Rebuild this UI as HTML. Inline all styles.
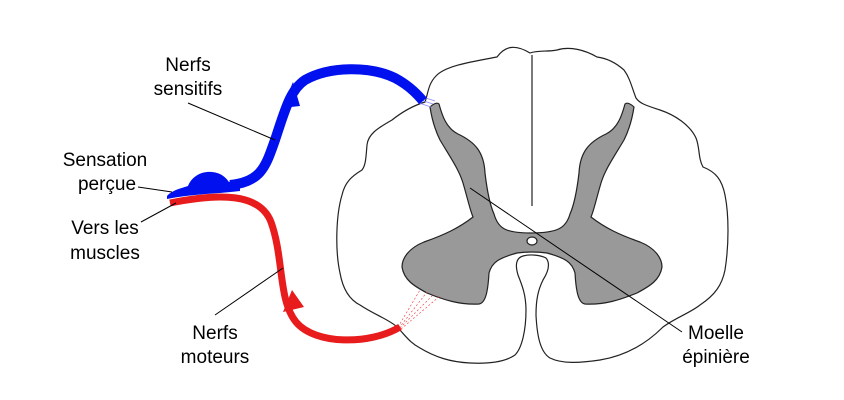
<!DOCTYPE html>
<html><head><meta charset="utf-8"><style>
html,body{margin:0;padding:0;background:#fff;}
svg{display:block;}
text{font-family:"Liberation Sans",sans-serif;font-size:19px;fill:#000;}
</style></head><body>
<svg width="844" height="400" viewBox="0 0 844 400" xmlns="http://www.w3.org/2000/svg">
<path d="M530,53 C515,44 505,46 497,57 C470,62 445,66 436,76 C428,84 428,94 425,102 C412,106 402,112 392,120 C378,128 368,134 367,145 C366,156 366,165 362,170 C352,176 345,182 342,195 C336,215 335,250 340,273 C343,290 350,300 360,305 C375,315 390,320 397,327 C405,335 410,343 420,348 C435,357 450,362 470,363 C490,364 505,362 515,355 C522,348 526,330 526,310 C526,295 522,285 518,275 C515,265 516,258 523,256 C530,254 540,255 546,258 C551,264 548,272 543,280 C538,290 536,300 536,315 C537,335 540,352 550,358 C562,364 580,363 600,360 C625,356 645,345 663,327 C675,318 690,313 700,305 C715,295 722,285 725,270 C729,245 729,215 725,195 C722,180 716,172 703,167 C698,158 700,148 696,138 C690,125 675,115 660,110 C648,106 640,104 636,98 C632,88 630,78 624,70 C615,62 605,58 597,57 C585,50 570,46 557,50 C548,52 538,50 530,53 Z" fill="#fff" stroke="#222" stroke-width="1.2"/>
<line x1="532" y1="55" x2="532" y2="206" stroke="#222" stroke-width="1.2"/>
<path d="M430,107 C433,104 437,102 439,104 C442,115 446,128 458,134 C475,142 484,152 485,173 C487,190 490,205 494,214 C498,228 505,233 530,233 C558,233 566,228 570,214 C574,205 577,190 579,173 C580,152 589,142 606,134 C618,128 622,115 625,104 C627,102 631,104 634,107 C632,120 628,132 624,140 C612,160 605,170 601,183 C596,200 594,210 591,217 C605,228 620,235 640,242 C655,248 662,258 662,267 C660,280 650,286 637,293 C620,300 604,305 585,304 C578,303 576,290 575,273 C572,262 565,258 547,253 C540,252 535,252 532,252 C529,252 524,252 517,253 C499,258 492,262 489,273 C488,290 486,303 479,304 C460,305 444,300 427,293 C414,286 404,280 402,267 C402,258 409,248 424,242 C444,235 459,228 473,217 C470,210 468,200 463,183 C459,170 452,160 440,140 C436,132 432,120 430,107 Z" fill="#999" stroke="#222" stroke-width="1.2"/>
<ellipse cx="532" cy="241" rx="5" ry="4" fill="#fff" stroke="#222" stroke-width="1.2"/>
<g stroke="#8a8aff" stroke-width="0.7"><line x1="421" y1="100" x2="433" y2="104"/><line x1="423" y1="97" x2="435" y2="101"/><line x1="419" y1="103" x2="431" y2="107"/></g>
<g stroke="#e33" stroke-width="0.6" stroke-dasharray="2,2"><line x1="398" y1="327" x2="420" y2="290"/><line x1="399" y1="328" x2="427" y2="292"/><line x1="400" y1="328" x2="434" y2="294"/><line x1="401" y1="329" x2="440" y2="296"/></g>
<path d="M170,203 C220,193 260,193 271,222 C284,258 278,300 296,322 C315,345 370,345 400,327" fill="none" stroke="#e81c1c" stroke-width="7"/>
<polygon points="292,290 283,312 304,307" fill="#e81c1c"/>
<path d="M230,185 C262,182 266,165 275,140 C285,110 290,90 305,80 C330,66 370,66 395,78 C410,86 418,95 423,101" fill="none" stroke="#0010ee" stroke-width="10"/>
<path d="M167,196 C172,190 182,188 188,186 C192,176 202,171 212,172 C222,173 226,178 229,182 L240,180 L240,191 C215,194 190,194 167,199 Z" fill="#0010ee"/>
<polygon points="293,82 282,108 300,106" fill="#0010ee"/>
<g stroke="#000" stroke-width="1">
<line x1="188" y1="103" x2="275" y2="140"/>
<line x1="138" y1="187" x2="172" y2="192"/>
<line x1="141" y1="222" x2="176" y2="203"/>
<line x1="215" y1="315" x2="283" y2="268"/>
<line x1="682" y1="332" x2="470" y2="188"/>
</g>
<text x="188" y="71" text-anchor="middle">Nerfs</text>
<text x="188" y="95" text-anchor="middle">sensitifs</text>
<text x="105" y="166" text-anchor="middle">Sensation</text>
<text x="107" y="190" text-anchor="middle">perçue</text>
<text x="105" y="234" text-anchor="middle">Vers les</text>
<text x="105" y="259" text-anchor="middle">muscles</text>
<text x="215" y="339" text-anchor="middle">Nerfs</text>
<text x="215" y="363" text-anchor="middle">moteurs</text>
<text x="716" y="339" text-anchor="middle">Moelle</text>
<text x="716" y="363" text-anchor="middle">épinière</text>
</svg>
</body></html>
